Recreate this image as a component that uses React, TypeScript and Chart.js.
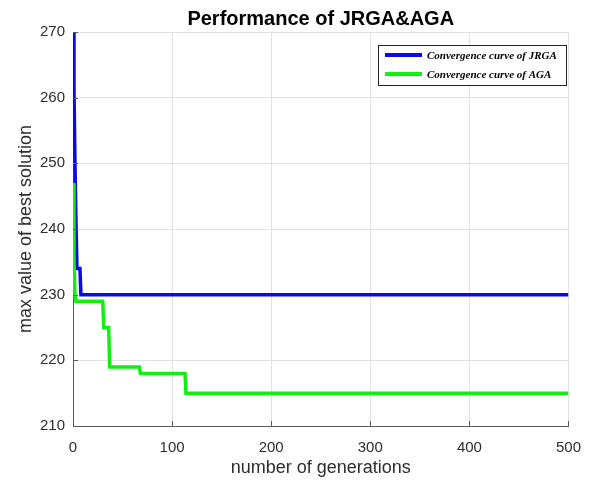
import React, { useEffect, useRef } from "react";
import { Chart, registerables } from "chart.js";

Chart.register(...registerables);

const titleText = "Performance of JRGA&AGA";
const xTitle = "number of generations";
const yTitle = "max value of best solution";

const xTicks = [0, 100, 200, 300, 400, 500];
const yTicks = [210, 220, 230, 240, 250, 260, 270];

const jrgaLabel = "Convergence curve of JRGA";
const jrgaGen = [0, 1, 2, 3, 4, 7, 8, 500];
const jrgaVal = [270, 261, 250, 241, 234, 234, 230, 230];

const agaLabel = "Convergence curve of AGA";
const agaGen = [0, 1, 2, 3, 30, 31, 36, 37, 67, 68, 113, 114, 500];
const agaVal = [247, 235, 230, 229, 229, 225, 225, 219, 219, 218, 218, 215, 215];

const BLUE = "#0a0ae8";
const GREEN = "#10f010";
const AXIS = "#5a5a5a";
const TEXT = "#2e2e2e";

const decor = {
  id: "decor",
  afterDraw(chart: any) {
    const ctx = chart.ctx;
    const area = chart.chartArea;
    const xs = chart.scales.x;
    const ys = chart.scales.y;
    ctx.save();
    ctx.strokeStyle = AXIS;
    ctx.lineWidth = 1;
    ctx.beginPath();
    xTicks.forEach((v) => {
      const px = Math.round(xs.getPixelForValue(v)) + 0.5;
      ctx.moveTo(px, area.bottom);
      ctx.lineTo(px, area.bottom - 5);
    });
    yTicks.forEach((v) => {
      const py = Math.round(ys.getPixelForValue(v)) + 0.5;
      ctx.moveTo(area.left, py);
      ctx.lineTo(area.left + 5, py);
    });
    ctx.stroke();

    const cx = (area.left + area.right) / 2;
    ctx.fillStyle = "#000";
    ctx.font = "bold 20px 'Liberation Sans', Arial, sans-serif";
    ctx.textAlign = "center";
    ctx.textBaseline = "alphabetic";
    ctx.fillText(titleText, cx, 25);

    ctx.fillStyle = TEXT;
    ctx.font = "18px 'Liberation Sans', Arial, sans-serif";
    ctx.fillText(xTitle, cx, 473);
    ctx.save();
    ctx.translate(31, (area.top + area.bottom) / 2);
    ctx.rotate(-Math.PI / 2);
    ctx.fillText(yTitle, 0, 0);
    ctx.restore();

    const bx = 378, by = 45, bw = 188, bh = 40;
    ctx.fillStyle = "#fff";
    ctx.fillRect(bx, by, bw, bh);
    ctx.strokeStyle = "#222";
    ctx.lineWidth = 1;
    ctx.strokeRect(bx + 0.5, by + 0.5, bw, bh);
    const rows = [
      { label: chart.data.datasets[0].label, color: chart.data.datasets[0].borderColor, y: 55 },
      { label: chart.data.datasets[1].label, color: chart.data.datasets[1].borderColor, y: 74 },
    ];
    ctx.font = "italic bold 11px 'Liberation Serif', 'Times New Roman', serif";
    ctx.textAlign = "left";
    rows.forEach((r) => {
      ctx.strokeStyle = r.color;
      ctx.lineWidth = 4;
      ctx.beginPath();
      ctx.moveTo(385, r.y);
      ctx.lineTo(422, r.y);
      ctx.stroke();
      ctx.fillStyle = "#000";
      ctx.fillText(r.label, 427, r.y + 4);
    });
    ctx.restore();
  },
};

export default function App() {
  const ref = useRef<HTMLCanvasElement | null>(null);
  useEffect(() => {
    if (!ref.current) return;
    const chart = new Chart(ref.current, {
      type: "line",
      data: {
        datasets: [
          {
            label: jrgaLabel,
            data: jrgaGen.map((g, i) => ({ x: g, y: jrgaVal[i] })),
            borderColor: BLUE,
            backgroundColor: BLUE,
            borderWidth: 3.5,
            pointRadius: 0,
            tension: 0,
            order: 1,
          },
          {
            label: agaLabel,
            data: agaGen.map((g, i) => ({ x: g, y: agaVal[i] })),
            borderColor: GREEN,
            backgroundColor: GREEN,
            borderWidth: 3.5,
            pointRadius: 0,
            tension: 0,
            order: 0,
          },
        ],
      },
      options: {
        responsive: false,
        animation: false,
        devicePixelRatio: 1,
        layout: { padding: { top: 32, right: 21, left: 0, bottom: 0 } },
        plugins: {
          legend: { display: false },
          title: { display: false },
          tooltip: { enabled: false },
        },
        scales: {
          x: {
            type: "linear",
            min: 0,
            max: 500,
            afterBuildTicks: (s: any) => {
              s.ticks = xTicks.map((v) => ({ value: v }));
            },
            afterFit: (s: any) => {
              s.height = 55;
            },
            ticks: {
              color: TEXT,
              font: { family: "'Liberation Sans', Arial, sans-serif", size: 15 },
              padding: 13,
              maxRotation: 0,
            },
            grid: { color: "#e2e2e2", drawTicks: false, lineWidth: 1 },
            border: { color: AXIS, width: 1 },
          },
          y: {
            type: "linear",
            min: 210,
            max: 270,
            afterBuildTicks: (s: any) => {
              s.ticks = yTicks.map((v) => ({ value: v }));
            },
            afterFit: (s: any) => {
              s.width = 73;
            },
            ticks: {
              color: TEXT,
              font: { family: "'Liberation Sans', Arial, sans-serif", size: 15 },
              padding: 8,
            },
            grid: { color: "#e2e2e2", drawTicks: false, lineWidth: 1 },
            border: { color: AXIS, width: 1 },
          },
        },
      },
      plugins: [decor],
    });
    return () => chart.destroy();
  }, []);
  return (
    <div style={{ position: "fixed", left: 0, top: 0, width: 594, height: 481, background: "#fff" }}>
      <canvas ref={ref} width={594} height={481} style={{ width: 594, height: 481, display: "block" }} />
    </div>
  );
}
